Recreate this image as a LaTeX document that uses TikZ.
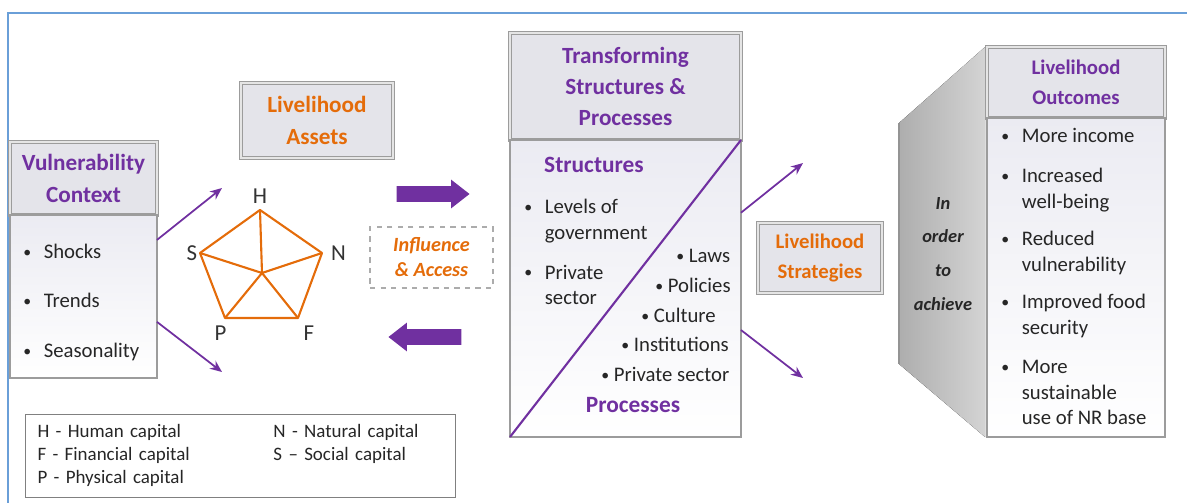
\documentclass[tikz,border=0pt]{standalone}
\usepackage{fontspec}
\setmainfont{Carlito}
\usepackage{xcolor}
\usetikzlibrary{shapes,arrows.meta,positioning,calc}

\definecolor{slpurple}{HTML}{7030A0}
\definecolor{slorange}{HTML}{E46C0A}
\definecolor{titlegray}{HTML}{E4E4EA}
\definecolor{bodytop}{HTML}{EBEBF2}
\definecolor{framegray}{HTML}{9C9C9C}
\definecolor{borderblue}{HTML}{6A9FD8}

\newcommand{\smallbul}{{\fontsize{9}{9}\selectfont\raisebox{0.6pt}{\textbullet}}}
\newcommand{\bitem}[1]{\makebox[0.41cm][l]{\smallbul}\begin{tabular}[t]{@{}l@{}}#1\end{tabular}}

\begin{document}
\begin{tikzpicture}[
        x=0.02cm, y=-0.02cm,
        titlebox/.style={rectangle, draw=framegray, double=white!80!gray, double distance=0.9pt, line width=0.6pt, fill=titlegray, align=center, inner sep=0pt, outer sep=0pt, font=\bfseries\fontsize{13.2}{18.1}\selectfont},
        bodybox/.style={rectangle, draw=framegray, line width=0.8pt, top color=bodytop, bottom color=white, inner sep=0pt, outer sep=0pt},
        bodytext/.style={font=\fontsize{11.8}{14.4}\selectfont, text=black!85, inner sep=0pt},
        headtext/.style={font=\bfseries\fontsize{13.3}{16}\selectfont, text=slpurple, inner sep=0pt},
        captext/.style={font=\fontsize{13}{15}\selectfont, text=black!80, inner sep=0pt},
        assetline/.style={draw=slorange, line width=1.2pt, line join=round},
        thinarrow/.style={-{Stealth[length=0.24cm,width=0.2cm]}, draw=slpurple, line width=1pt},
        fatarrow/.style={single arrow, fill=slpurple, inner sep=0.15cm, single arrow head extend=0.13cm, single arrow tip angle=76, minimum height=1.46cm}
    ]
        \useasboundingbox (0,0) rectangle (1187,503);
        \draw[borderblue, line width=1.5pt] (8,503) -- (8,13) -- (1187,13);

        % Vulnerability context
        \node[titlebox, text=slpurple, minimum width=2.94cm, minimum height=1.46cm] (vctitle) at (83.5,178.5) {Vulnerability\\Context};
        \node[bodybox, below=0pt of vctitle, minimum width=2.94cm, minimum height=3.26cm] (vcbody) {};
        \foreach \t [count=\i] in {Shocks,Trends,Seasonality}
            \node[bodytext, anchor=base west] (vc\i) at (23,{209+49.5*\i}) {\bitem{\t}};

        % Livelihood assets
        \node[titlebox, text=slorange, minimum width=3.04cm, minimum height=1.5cm] (assets) at (317,120.5) {Livelihood\\Assets};
        \coordinate (H) at (260,210);
        \coordinate (N) at (322,253);
        \coordinate (F) at (298,318);
        \coordinate (P) at (225,318);
        \coordinate (S) at (200,253);
        \coordinate (hub) at (262,273);
        \draw[assetline] (H) -- (N) -- (F) -- (P) -- (S) -- cycle;
        \foreach \v in {H,N,F,P,S}
            \draw[assetline] (hub) -- (\v);
        \node[captext, above=3.5pt of H] (labH) {H};
        \node[captext, right=5pt of N] (labN) {N};
        \node[captext, below right=4pt and 3pt of F] (labF) {F};
        \node[captext, below left=4pt and -1pt of P] (labP) {P};
        \node[captext, left=1.5pt of S] (labS) {S};

        \coordinate (assetup) at (222,188);
        \coordinate (assetdown) at (222,372);
        \draw[thinarrow] ($(vcbody.north east)!0.153!(vcbody.south east)$) -- (assetup);
        \draw[thinarrow] ($(vcbody.north east)!0.656!(vcbody.south east)$) -- (assetdown);

        % Influence and access
        \node[fatarrow] (fwd) at (428,194) {};
        \node[fatarrow, shape border rotate=180] (back) at (430,337) {};
        \node[draw=gray!65, dashed, line width=0.7pt, minimum width=2.46cm, minimum height=1.22cm, align=center, text=slorange, font=\bfseries\itshape\fontsize{11.5}{14.2}\selectfont] (influence) at (431.5,257.5) {Influence\\\& Access};

        % Transforming structures and processes
        \node[titlebox, text=slpurple, minimum width=4.62cm, minimum height=2.14cm, font=\bfseries\fontsize{13.2}{17.9}\selectfont] (tsp) at (625.5,86.5) {Transforming\\Structures \&\\Processes};
        \node[bodybox, below=0pt of tsp, minimum width=4.62cm, minimum height=5.94cm] (tspbody) {};
        \draw[slpurple, line width=1.2pt] (tspbody.south west) -- (tspbody.north east);
        \node[headtext, anchor=base] (structures) at (594,173) {Structures};
        \node[bodytext, anchor=base west] (levels) at (524,214) {\bitem{Levels of\\government}};
        \node[bodytext, anchor=base west] (privsec) at (524,279) {\bitem{Private\\sector}};
        \foreach \t/\x [count=\i] in {Laws/676,Policies/655,Culture/641,Institutions/621,Private sector/601}
            \node[bodytext, anchor=base west] (proc\i) at (\x,{233+29.7*\i}) {\smallbul\ \t};
        \node[headtext, anchor=base] (processes) at (633,412) {Processes};

        \coordinate (stratup) at (803,163);
        \coordinate (stratdown) at (803,378);
        \draw[thinarrow] ($(tspbody.north east)!0.245!(tspbody.south east)$) -- (stratup);
        \draw[thinarrow] ($(tspbody.north east)!0.64!(tspbody.south east)$) -- (stratdown);

        % Livelihood strategies
        \node[titlebox, text=slorange, minimum width=2.48cm, minimum height=1.4cm, font=\bfseries\fontsize{11.8}{17.5}\selectfont] (strategies) at (820,258) {Livelihood\\Strategies};

        % In order to achieve
        \fill[left color=black!32, right color=black!17] (985,47) -- (899,123) -- (899,364) -- (985,437) -- cycle;
        \draw[black!42, line width=1pt] (899,123) -- (899,364);
        \node[align=center, text=black!85, font=\bfseries\itshape\fontsize{10.5}{19.3}\selectfont] (inorder) at (943,254) {In\\order\\to\\achieve};

        % Livelihood outcomes
        \node[titlebox, text=slpurple, minimum width=3.56cm, minimum height=1.42cm, font=\bfseries\fontsize{11.8}{17}\selectfont] (outcomes) at (1076,82.5) {Livelihood\\Outcomes};
        \node[bodybox, below=0pt of outcomes, minimum width=3.56cm, minimum height=6.38cm] (outbody) {};
        \foreach \t/\y [count=\i] in {{More income}/143,{Increased\\well-being}/183,{Reduced\\vulnerability}/246,{Improved food\\security}/309,{More\\sustainable\\use of NR base}/374}
            \node[bodytext, anchor=base west] (out\i) at (1001,\y) {\bitem{\t}};

        % Legend
        \node[draw=black!50, line width=0.6pt, anchor=north west, minimum width=8.6cm, minimum height=1.66cm, inner xsep=0.24cm, inner ysep=0.14cm, text width=8.12cm, align=left, text=black!85, font=\fontsize{10.8}{13}\selectfont] (legend) at (25,414)
            {\begin{tabular}{@{}p{4.72cm}@{}l@{}}H - Human capital & N - Natural capital\\F - Financial capital & S -- Social capital\\P - Physical capital & \end{tabular}};

    \end{tikzpicture}
\end{document}
